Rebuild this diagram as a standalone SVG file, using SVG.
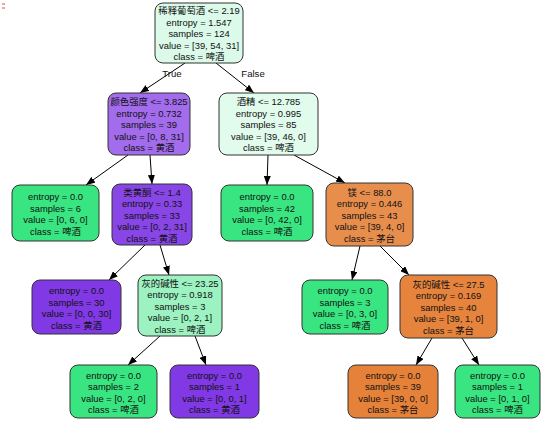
<svg xmlns="http://www.w3.org/2000/svg" width="554" height="422" viewBox="0 0 554 422">
<defs>
<style>
.n rect{stroke:#333;stroke-width:1}
.n text{font-family:"Liberation Sans","Noto Sans CJK SC",sans-serif;font-size:9.4px;fill:#111;text-anchor:middle}
.e line{stroke:#000;stroke-width:1;marker-end:url(#ah)}
.lbl{font-family:"Liberation Sans","Noto Sans CJK SC",sans-serif;font-size:9.6px;fill:#111;text-anchor:middle}
</style>
<marker id="ah" markerWidth="9" markerHeight="7" refX="9" refY="3.5" orient="auto" markerUnits="userSpaceOnUse">
<path d="M0,0 L9,3.5 L0,7 Z" fill="#000"/>
</marker>
</defs>
<rect width="554" height="422" fill="#fff"/>
<rect x="2" y="3" width="3" height="2" fill="#eaa59a"/>
<rect x="2" y="7" width="3" height="2" fill="#eaa59a"/>
<g class="e" id="edges">
<line x1="185" y1="63" x2="140" y2="93"/>
<line x1="216" y1="63" x2="254" y2="93"/>
<line x1="128" y1="155" x2="86" y2="185"/>
<line x1="150" y1="155" x2="152" y2="184"/>
<line x1="268" y1="155" x2="267" y2="185"/>
<line x1="294" y1="155" x2="345" y2="183"/>
<line x1="145" y1="245" x2="109" y2="280"/>
<line x1="160" y1="245" x2="169" y2="275"/>
<line x1="360" y1="246" x2="352" y2="280"/>
<line x1="380" y1="246" x2="409" y2="275"/>
<line x1="160" y1="336" x2="128" y2="365"/>
<line x1="195" y1="336" x2="206" y2="365"/>
<line x1="432" y1="338" x2="416" y2="365"/>
<line x1="462" y1="338" x2="479" y2="365"/>
<text class="lbl" x="172" y="77">True</text>
<text class="lbl" x="253" y="77">False</text>
</g>
<g class="n" id="n0"><rect x="155" y="3" width="88" height="60" rx="8" fill="#dcfae9"/>
<text x="199" y="14">稀释葡萄酒 &lt;= 2.19</text><text x="199" y="25.5">entropy = 1.547</text><text x="199" y="37">samples = 124</text><text x="199" y="48.5">value = [39, 54, 31]</text><text x="199" y="60">class = 啤酒</text></g>
<g class="n" id="n1"><rect x="108" y="93" width="82" height="62" rx="8" fill="#a26cec"/>
<text x="149" y="105">颜色强度 &lt;= 3.825</text><text x="149" y="116.5">entropy = 0.732</text><text x="149" y="128">samples = 39</text><text x="149" y="139.5">value = [0, 8, 31]</text><text x="149" y="151">class = 黄酒</text></g>
<g class="n" id="n2"><rect x="219" y="93" width="99" height="62" rx="8" fill="#e1fbec"/>
<text x="268.5" y="105">酒精 &lt;= 12.785</text><text x="268.5" y="116.5">entropy = 0.995</text><text x="268.5" y="128">samples = 85</text><text x="268.5" y="139.5">value = [39, 46, 0]</text><text x="268.5" y="151">class = 啤酒</text></g>
<g class="n" id="n3"><rect x="12" y="185" width="87" height="56" rx="8" fill="#39e581"/>
<text x="55.5" y="200">entropy = 0.0</text><text x="55.5" y="211.5">samples = 6</text><text x="55.5" y="223">value = [0, 6, 0]</text><text x="55.5" y="234.5">class = 啤酒</text></g>
<g class="n" id="n4"><rect x="112" y="184" width="80" height="61" rx="8" fill="#8946e7"/>
<text x="152" y="195.5">类黄酮 &lt;= 1.4</text><text x="152" y="207">entropy = 0.33</text><text x="152" y="218.5">samples = 33</text><text x="152" y="230">value = [0, 2, 31]</text><text x="152" y="241.5">class = 黄酒</text></g>
<g class="n" id="n5"><rect x="221" y="185" width="92" height="56" rx="8" fill="#39e581"/>
<text x="267" y="200">entropy = 0.0</text><text x="267" y="211.5">samples = 42</text><text x="267" y="223">value = [0, 42, 0]</text><text x="267" y="234.5">class = 啤酒</text></g>
<g class="n" id="n6"><rect x="326" y="183" width="87" height="63" rx="8" fill="#e88e4d"/>
<text x="369.5" y="195.5">镁 &lt;= 88.0</text><text x="369.5" y="207">entropy = 0.446</text><text x="369.5" y="218.5">samples = 43</text><text x="369.5" y="230">value = [39, 4, 0]</text><text x="369.5" y="241.5">class = 茅台</text></g>
<g class="n" id="n7"><rect x="32" y="280" width="89" height="54" rx="8" fill="#8139e5"/>
<text x="76.5" y="294">entropy = 0.0</text><text x="76.5" y="305.5">samples = 30</text><text x="76.5" y="317">value = [0, 0, 30]</text><text x="76.5" y="328.5">class = 黄酒</text></g>
<g class="n" id="n8"><rect x="138" y="275" width="84" height="61" rx="8" fill="#9cf2c0"/>
<text x="180" y="286.5">灰的碱性 &lt;= 23.25</text><text x="180" y="298">entropy = 0.918</text><text x="180" y="309.5">samples = 3</text><text x="180" y="321">value = [0, 2, 1]</text><text x="180" y="332.5">class = 啤酒</text></g>
<g class="n" id="n9"><rect x="302" y="280" width="86" height="54" rx="8" fill="#39e581"/>
<text x="345" y="294">entropy = 0.0</text><text x="345" y="305.5">samples = 3</text><text x="345" y="317">value = [0, 3, 0]</text><text x="345" y="328.5">class = 啤酒</text></g>
<g class="n" id="n10"><rect x="400" y="275" width="97" height="63" rx="8" fill="#e6843e"/>
<text x="448.5" y="287.5">灰的碱性 &lt;= 27.5</text><text x="448.5" y="299">entropy = 0.169</text><text x="448.5" y="310.5">samples = 40</text><text x="448.5" y="322">value = [39, 1, 0]</text><text x="448.5" y="333.5">class = 茅台</text></g>
<g class="n" id="n11"><rect x="70" y="365" width="87" height="53" rx="8" fill="#39e581"/>
<text x="113.5" y="378.5">entropy = 0.0</text><text x="113.5" y="390">samples = 2</text><text x="113.5" y="401.5">value = [0, 2, 0]</text><text x="113.5" y="413">class = 啤酒</text></g>
<g class="n" id="n12"><rect x="170" y="365" width="89" height="53" rx="8" fill="#8139e5"/>
<text x="214.5" y="378.5">entropy = 0.0</text><text x="214.5" y="390">samples = 1</text><text x="214.5" y="401.5">value = [0, 0, 1]</text><text x="214.5" y="413">class = 黄酒</text></g>
<g class="n" id="n13"><rect x="348" y="365" width="90" height="53" rx="8" fill="#e58139"/>
<text x="393" y="378.5">entropy = 0.0</text><text x="393" y="390">samples = 39</text><text x="393" y="401.5">value = [39, 0, 0]</text><text x="393" y="413">class = 茅台</text></g>
<g class="n" id="n14"><rect x="455" y="365" width="85" height="53" rx="8" fill="#39e581"/>
<text x="497.5" y="378.5">entropy = 0.0</text><text x="497.5" y="390">samples = 1</text><text x="497.5" y="401.5">value = [0, 1, 0]</text><text x="497.5" y="413">class = 啤酒</text></g>
</svg>
